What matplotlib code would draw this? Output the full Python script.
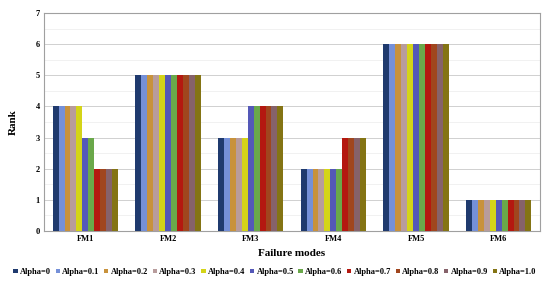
import matplotlib
matplotlib.use("Agg")
import matplotlib.pyplot as plt
import numpy as np

categories = ["FM1", "FM2", "FM3", "FM4", "FM5", "FM6"]
series_names = ["Alpha=0", "Alpha=0.1", "Alpha=0.2", "Alpha=0.3", "Alpha=0.4", "Alpha=0.5",
                "Alpha=0.6", "Alpha=0.7", "Alpha=0.8", "Alpha=0.9", "Alpha=1.0"]
# rank per failure mode for each alpha
ranks = {
    "FM1": [4, 4, 4, 4, 4, 3, 3, 2, 2, 2, 2],
    "FM2": [5, 5, 5, 5, 5, 5, 5, 5, 5, 5, 5],
    "FM3": [3, 3, 3, 3, 3, 4, 4, 4, 4, 4, 4],
    "FM4": [2, 2, 2, 2, 2, 2, 2, 3, 3, 3, 3],
    "FM5": [6, 6, 6, 6, 6, 6, 6, 6, 6, 6, 6],
    "FM6": [1, 1, 1, 1, 1, 1, 1, 1, 1, 1, 1],
}
colors = ["#1f3a6e", "#7590d8", "#c8923c", "#b89c9c", "#d4d418", "#5458b8",
          "#6aa84a", "#b41810", "#a0461e", "#86626a", "#847414"]

plt.rcParams['font.family'] = ['Liberation Serif', 'DejaVu Serif']

fig = plt.figure(figsize=(5.5, 2.91), dpi=100)
ax = fig.add_axes([44/550, 1 - 231/291, 496/550, 218/291])

n = len(series_names)
x = np.arange(len(categories))
group_w = 0.79
bw = group_w / n
for i, name in enumerate(series_names):
    vals = [ranks[c][i] for c in categories]
    ax.bar(x - group_w/2 + bw*(i+0.5), vals, width=bw, color=colors[i],
           label=name, zorder=3, linewidth=0)

ax.set_xlim(-0.5, len(categories) - 0.5)
ax.set_ylim(0, 7)
ax.set_yticks(range(0, 8))
ax.set_yticks(np.arange(0.5, 7, 1), minor=True)
ax.set_xticks(x)
ax.set_xticklabels(categories)
ax.tick_params(axis='both', labelsize=6, length=0, pad=3)
ax.tick_params(axis='y', which='minor', length=0)
for lab in ax.get_xticklabels() + ax.get_yticklabels():
    lab.set_fontweight('bold')
ax.grid(axis='y', which='major', color='#d0d0d0', linewidth=0.7, zorder=0)
ax.grid(axis='y', which='minor', color='#ececec', linewidth=0.5, zorder=0)
for s in ax.spines.values():
    s.set_color('#a0a0a0')
    s.set_linewidth(0.8)

ax.set_ylabel("Rank", fontsize=8, fontweight='bold', labelpad=13)
ax.set_xlabel("Failure modes", fontsize=8, fontweight='bold', labelpad=4)

leg = fig.legend(loc='center', bbox_to_anchor=(0.5, 1 - 272/291), ncol=11,
                 frameon=False, handlelength=0.5, handleheight=0.5,
                 handletextpad=0.3, columnspacing=0.55, prop={'weight': 'bold', 'size': 6})

fig.savefig("out.png", dpi=100)
